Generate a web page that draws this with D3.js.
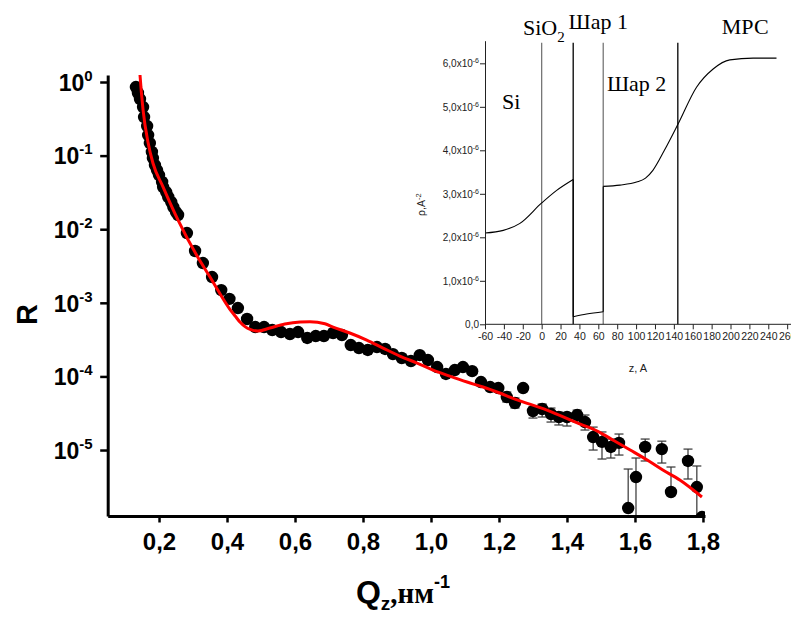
<!DOCTYPE html>
<html>
<head>
<meta charset="utf-8">
<script src="https://cdn.jsdelivr.net/npm/d3@7"></script>
<style>
  body { margin: 0; background: #fff; }
  svg { display: block; }
</style>
</head>
<body>
<div id="chart"></div>
<script>
// measured reflectivity R(Qz)
const qData = [0.132,0.138,0.144,0.153,0.156,0.165,0.168,0.173,0.179,0.182,0.188,0.194,0.200,0.209,0.212,0.221,0.227,0.236,0.242,0.250,
  0.256,0.282,0.306,0.329,0.356,0.383,0.407,0.432,0.459,0.483,0.509,0.533,0.559,0.585,0.609,0.636,0.661,0.685,0.712,0.738,
  0.764,0.788,0.814,0.841,0.865,0.888,0.914,0.941,0.967,0.991,1.018,1.044,1.070,1.094,1.121,1.147,1.174,1.198,1.223,1.247,
  1.271,1.300,1.327,1.353,1.376,1.400,1.430,1.453,1.477,1.503,1.529,1.553,1.580,1.603,1.630,1.679,1.706,1.756,1.782,1.797];
const rData = [0.855,0.709,0.587,0.457,0.334,0.252,0.190,0.148,0.112,0.0927,0.0745,0.0637,0.0545,0.0438,0.0374,0.0320,0.0274,0.0234,0.0200,0.0171,
  0.0156,0.00887,0.00506,0.00347,0.00224,0.00149,0.00113,8.50e-4,6.03e-4,4.69e-4,4.69e-4,4.27e-4,4.01e-4,3.77e-4,4.01e-4,3.33e-4,3.54e-4,3.54e-4,3.89e-4,3.65e-4,
  2.67e-4,2.43e-4,2.29e-4,2.51e-4,2.36e-4,2.01e-4,1.78e-4,1.62e-4,1.95e-4,1.67e-4,1.34e-4,1.08e-4,1.22e-4,1.34e-4,1.18e-4,8.39e-5,7.18e-5,6.95e-5,5.25e-5,4.35e-5,
  6.95e-5,3.39e-5,3.61e-5,3.08e-5,2.81e-5,2.81e-5,2.99e-5,2.40e-5,1.50e-5,1.29e-5,1.10e-5,1.25e-5,1.63e-6,4.30e-6,1.10e-5,1.03e-5,2.69e-6,7.10e-6,3.14e-6,1.23e-6];

// error bars (upper / lower R)
const errQ  = [1.223,1.247,1.300,1.327,1.353,1.376,1.400,1.430,1.453,1.477,1.503,1.529,1.553,1.580,1.603,1.630,1.679,1.706,1.756,1.782];
const errHi = [6.14e-5,5.09e-5,3.72e-5,4.22e-5,3.72e-5,3.28e-5,3.18e-5,3.49e-5,2.99e-5,2.05e-5,1.76e-5,1.41e-5,1.65e-5,5.52e-6,7.79e-6,1.41e-5,1.32e-5,5.88e-6,1.03e-5,6.07e-6];
const errLo = [4.49e-5,3.72e-5,2.72e-5,2.81e-5,2.40e-5,2.19e-5,2.12e-5,2.40e-5,1.87e-5,1.00e-5,7.55e-6,7.79e-6,8.55e-6,1.63e-6,1e-7,7.10e-6,6.66e-6,2.69e-6,4.04e-6,1e-7];

// model fit
const fitQ = [0.141,0.144,0.153,0.168,0.182,0.212,0.256,0.312,0.350,0.371,0.408,0.424,0.438,0.453,0.468,0.491,0.526,0.570,0.615,0.644,
  0.688,0.712,0.761,0.811,0.859,0.908,0.959,1.006,1.055,1.106,1.153,1.202,1.247,1.341,1.439,1.489,1.535,1.586,1.636,1.682,1.732,1.797];
const fitR = [1.99,1.245,0.417,0.148,0.0794,0.0374,0.0133,0.00432,0.00224,0.00154,8.24e-4,6.62e-4,5.48e-4,4.75e-4,4.35e-4,4.14e-4,4.55e-4,5.15e-4,5.48e-4,5.52e-4,
  5.19e-4,4.69e-4,3.89e-4,3.12e-4,2.43e-4,1.89e-4,1.52e-4,1.22e-4,1.01e-4,8.39e-5,7.18e-5,5.95e-5,4.93e-5,3.49e-5,2.25e-5,1.81e-5,1.37e-5,1.0e-5,7.31e-6,5.35e-6,3.91e-6,2.30e-6];

// tick labels, main chart
const xTicks = [0.2,0.4,0.6,0.8,1.0,1.2,1.4,1.6,1.8];
const xMinor = [0.1,0.3,0.5,0.7,0.9,1.1,1.3,1.5,1.7];
const yExp = [0,-1,-2,-3,-4,-5];

// inset: SLD profile, rho in 1e-6 A^-2, three pieces
const sldZ1 = [-60,-40.6,-23.0,0.0,15.9,33.4];
const sldR1 = [2.10,2.16,2.32,2.79,3.08,3.33];
const sldZ2 = [33.4,47.6,65.2];
const sldR2 = [0.174,0.236,0.289];
const sldZ3 = [65.2,82.9,100.5,110,117.8,130,144.6,164.0,181.6,199.3,223.9,248.7];
const sldR3 = [3.17,3.20,3.27,3.36,3.54,4.0,4.61,5.45,5.87,6.08,6.12,6.12];
const layerZ = [0, 33.4, 65.2, 144.2];
const insetXTicks = d3.range(-60, 261, 20);
const insetYTicks = [0,1,2,3,4,5,6];
const layerNames = ["Si", "SiO", "Шар 1", "Шар 2", "МРС"];

const W = 791, H = 617;
const svg = d3.select("#chart").append("svg").attr("width", W).attr("height", H);
const sans = "'Liberation Sans', Arial, sans-serif";
const serif = "'Liberation Serif', 'Times New Roman', serif";

// ---- main chart
const x = d3.scaleLinear().domain([0.049, 1.806]).range([107.7, 705]);
const y = d3.scaleLog().domain([1.27e-6, 1.245]).range([516, 75]);

svg.append("clipPath").attr("id", "clip")
  .append("rect")
  .attr("x", x.range()[0]).attr("y", y.range()[1])
  .attr("width", x.range()[1] - x.range()[0])
  .attr("height", y.range()[0] - y.range()[1]);

const plot = svg.append("g").attr("clip-path", "url(#clip)");

// error bars
const errs = d3.zip(errQ, errHi, errLo);
const eb = plot.append("g").attr("stroke", "#333").attr("stroke-width", 1.2);
errs.forEach(([q, hi, lo]) => {
  const r = rData[qData.indexOf(q)];
  eb.append("line").attr("x1", x(q)).attr("x2", x(q)).attr("y1", y(hi)).attr("y2", y(lo));
  eb.append("line").attr("x1", x(q) - 4.5).attr("x2", x(q) + 4.5).attr("y1", y(hi)).attr("y2", y(hi));
  if (lo < r) {
    eb.append("line").attr("x1", x(q) - 4.5).attr("x2", x(q) + 4.5).attr("y1", y(lo)).attr("y2", y(lo));
  }
});

// points
plot.append("g").selectAll("circle")
  .data(d3.zip(qData, rData))
  .join("circle")
  .attr("cx", d => x(d[0]))
  .attr("cy", d => y(d[1]))
  .attr("r", 6.2)
  .attr("fill", "#000");

// fit line
plot.append("path")
  .datum(d3.zip(fitQ, fitR))
  .attr("fill", "none")
  .attr("stroke", "#ff0000")
  .attr("stroke-width", 3)
  .attr("d", d3.line().x(d => x(d[0])).y(d => y(d[1])).curve(d3.curveMonotoneX));

// x axis
const gx = svg.append("g").attr("transform", `translate(0,${y.range()[0]})`);
gx.call(d3.axisBottom(x).tickValues(xMinor).tickSize(4.5).tickSizeOuter(0).tickFormat(""));
gx.call(d3.axisBottom(x).tickValues(xTicks).tickSize(6.5).tickSizeOuter(0)
  .tickFormat(d => d.toFixed(1).replace(".", ",")));
gx.selectAll(".domain").attr("stroke-width", 3);
gx.selectAll(".tick line").attr("stroke-width", 2.5);
gx.selectAll(".tick text")
  .attr("y", 17)
  .attr("font-family", sans).attr("font-weight", "bold").attr("font-size", 24);

// y axis
const yMinor = [];
for (let e = -6; e < 0; e++) for (let m = 2; m <= 9; m++) yMinor.push(m * Math.pow(10, e));
const gy = svg.append("g").attr("transform", `translate(${x.range()[0]},0)`);
gy.call(d3.axisLeft(y).tickValues(yMinor.filter(v => v > y.domain()[0])).tickSize(4.5).tickSizeOuter(0).tickFormat(""));
gy.call(d3.axisLeft(y).tickValues(yExp.map(e => Math.pow(10, e))).tickSize(7.5).tickSizeOuter(0).tickFormat(""));
gy.selectAll(".domain").attr("stroke-width", 3);
gy.selectAll(".tick line").attr("stroke-width", 2.5);
gy.selectAll(".tick").filter(d => yExp.includes(Math.round(Math.log10(d)))).each(function(d) {
  const t = d3.select(this).append("text")
    .attr("x", -15).attr("dy", "0.36em")
    .attr("text-anchor", "end")
    .attr("fill", "#000")
    .attr("font-family", sans).attr("font-weight", "bold").attr("font-size", 23);
  t.append("tspan").text("10");
  t.append("tspan").attr("dy", -10).attr("font-size", 15).text(Math.round(Math.log10(d)));
});

// axis titles
svg.append("text")
  .attr("transform", `translate(37,${(y.range()[0] + y.range()[1]) / 2 + 19}) rotate(-90)`)
  .attr("text-anchor", "middle")
  .attr("font-family", sans).attr("font-weight", "bold").attr("font-size", 29)
  .text("R");

const xt = svg.append("text")
  .attr("x", 403).attr("y", 603)
  .attr("text-anchor", "middle")
  .attr("font-weight", "bold");
xt.append("tspan").attr("font-family", sans).attr("font-size", 32).text("Q");
xt.append("tspan").attr("font-family", sans).attr("font-size", 19).attr("dy", 7).text("z");
xt.append("tspan").attr("font-family", serif).attr("font-size", 29).attr("dy", -7).text(",нм");
xt.append("tspan").attr("font-family", sans).attr("font-size", 18).attr("dy", -15).text("-1");

// ---- inset SLD profile
const ix = d3.scaleLinear().domain([-60, 263]).range([485, 790]);
const iy = d3.scaleLinear().domain([0, 6.52]).range([324.3, 40.7]);
const inset = svg.append("g");

// layer boundaries
inset.append("g").selectAll("line")
  .data(layerZ)
  .join("line")
  .attr("x1", d => ix(d)).attr("x2", d => ix(d))
  .attr("y1", iy(0)).attr("y2", iy(6.47))
  .attr("stroke", (d, i) => i % 2 === 0 ? "#777" : "#000")
  .attr("stroke-width", 1.3);

const sldLine = d3.line().x(d => ix(d[0])).y(d => iy(d[1])).curve(d3.curveMonotoneX);
[[sldZ1, sldR1], [sldZ2, sldR2], [sldZ3, sldR3]].forEach(([zs, rs]) => {
  inset.append("path")
    .datum(d3.zip(zs, rs))
    .attr("fill", "none").attr("stroke", "#000").attr("stroke-width", 1.1)
    .attr("d", sldLine);
});
// jumps between pieces
inset.append("g").attr("stroke", "#000").attr("stroke-width", 1.1)
  .selectAll("line")
  .data([[sldZ1[sldZ1.length - 1], sldR1[sldR1.length - 1], sldR2[0]],
         [sldZ2[sldZ2.length - 1], sldR2[sldR2.length - 1], sldR3[0]]])
  .join("line")
  .attr("x1", d => ix(d[0])).attr("x2", d => ix(d[0]))
  .attr("y1", d => iy(d[1])).attr("y2", d => iy(d[2]));

// inset axes
const igx = inset.append("g").attr("transform", `translate(0,${iy(0)})`);
igx.call(d3.axisBottom(ix).tickValues(d3.range(-50, 261, 20)).tickSize(3).tickSizeOuter(0).tickFormat(""));
igx.call(d3.axisBottom(ix).tickValues(insetXTicks).tickSize(5).tickSizeOuter(0).tickFormat(d => String(d)));
igx.selectAll(".domain").attr("d", `M${ix(-60)},0H${W}`);
igx.selectAll(".tick text").attr("y", 8)
  .attr("font-family", sans).attr("font-size", 10.5).attr("fill", "#222");

const igy = inset.append("g").attr("transform", `translate(${ix(-60)},0)`);
igy.call(d3.axisLeft(iy).tickValues(d3.range(0.5, 6.5, 1)).tickSize(3).tickSizeOuter(0).tickFormat(""));
igy.call(d3.axisLeft(iy).tickValues(insetYTicks).tickSize(5).tickSizeOuter(0).tickFormat(""));
igy.selectAll(".tick").filter(d => insetYTicks.includes(d)).each(function(d) {
  const t = d3.select(this).append("text")
    .attr("x", -6).attr("dy", "0.36em").attr("text-anchor", "end")
    .attr("fill", "#222").attr("font-family", sans).attr("font-size", 10);
  if (d === 0) { t.text("0,0"); return; }
  t.append("tspan").text(d.toFixed(1).replace(".", ",") + "x10");
  t.append("tspan").attr("dy", -4).attr("font-size", 7).text("-6");
});
inset.selectAll(".domain, .tick line").attr("stroke", "#222").attr("stroke-width", 1);

// inset axis titles
const ryl = inset.append("text")
  .attr("transform", `translate(425,${iy(2.75)}) rotate(-90)`)
  .attr("text-anchor", "middle")
  .attr("font-family", sans).attr("font-size", 10.5).attr("fill", "#222");
ryl.append("tspan").text("ρ,A");
ryl.append("tspan").attr("dy", -4).attr("font-size", 7.5).text("-2");

inset.append("text")
  .attr("x", (ix(-60) + W) / 2).attr("y", 372)
  .attr("text-anchor", "middle")
  .attr("font-family", sans).attr("font-size", 11).attr("fill", "#222")
  .text("z, A");

// layer names
const lab = inset.append("g").attr("font-family", serif).attr("font-size", 22).attr("fill", "#000");
lab.append("text").attr("x", ix(-42)).attr("y", iy(4.96)).text(layerNames[0]);
const sio = lab.append("text").attr("x", ix(-19.8)).attr("y", iy(6.64));
sio.append("tspan").text(layerNames[1]);
sio.append("tspan").attr("dy", 7).attr("font-size", 15).text("2");
lab.append("text").attr("x", ix(28.5)).attr("y", iy(6.8)).text(layerNames[2]);
lab.append("text").attr("x", ix(69.1)).attr("y", iy(5.37)).text(layerNames[3]);
lab.append("text").attr("x", ix(190.8)).attr("y", iy(6.68)).text(layerNames[4]);
</script>
</body>
</html>
